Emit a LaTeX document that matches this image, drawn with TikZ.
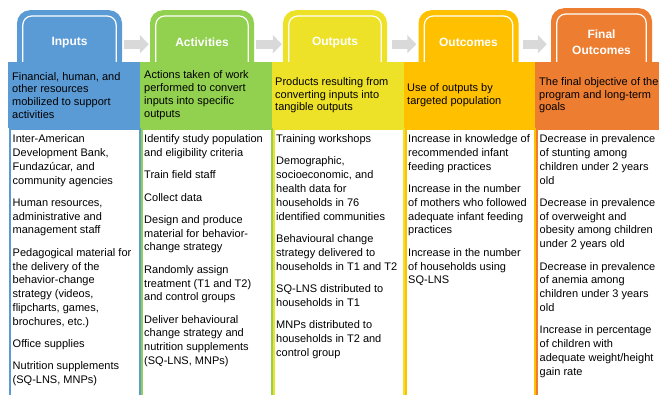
\documentclass[tikz,border=0pt]{standalone}
\usepackage{fontspec}
\setmainfont{Liberation Sans}
\usetikzlibrary{arrows.meta}
\definecolor{inblue}{RGB}{91,155,213}
\definecolor{acgreen}{RGB}{146,208,80}
\definecolor{ouyellow}{RGB}{238,226,40}
\definecolor{ocgold}{RGB}{255,192,0}
\definecolor{fiorange}{RGB}{237,125,49}
\definecolor{arrgray}{RGB}{217,217,217}
\begin{document}
\begin{tikzpicture}[x=1pt,y=1pt,
  tab/.style={fill=#1, rounded corners=13pt, anchor=north, minimum height=64pt, text=white, align=center, font=\fontsize{12}{15.7}\selectfont\bfseries},
  tabline/.style={white, line width=1.2pt, rounded corners=9pt},
  flow/.style={arrgray, line width=9pt, -{Triangle[width=18pt,length=9pt]}},
  band/.style={fill=#1, anchor=north west, minimum height=66pt, inner sep=0pt},
  box/.style={draw=#1, line width=2pt, fill=white, anchor=north west, minimum height=280pt, inner sep=0pt},
  head/.style={anchor=west, align=left, inner sep=0pt, font=\fontsize{11}{12.7}\selectfont},
  body/.style={anchor=north west, align=left, inner sep=0pt, font=\fontsize{11}{13.8}\selectfont}]
\useasboundingbox (0,0) rectangle (659,-395);
\node [tab=inblue, minimum width=105pt] (intab) at (69.5,-10) {Inputs};
\node [tab=acgreen, minimum width=104pt] (actab) at (202,-10) {Activities};
\node [tab=ouyellow, minimum width=104pt] (outab) at (335,-10) {Outputs};
\node [tab=ocgold, minimum width=100pt] (octab) at (468.5,-10) {Outcomes};
\node [tab=fiorange, minimum width=101pt, minimum height=68pt] (fitab) at (601.5,-8) {Final\\Outcomes};
\draw [tabline] ([shift={(6,-6)}]intab.north west) rectangle ([shift={(-6,0)}]intab.south east);
\draw [tabline] ([shift={(6,-6)}]actab.north west) rectangle ([shift={(-6,0)}]actab.south east);
\draw [tabline] ([shift={(6,-6)}]outab.north west) rectangle ([shift={(-6,0)}]outab.south east);
\draw [tabline] ([shift={(6,-6)}]octab.north west) rectangle ([shift={(-6,0)}]octab.south east);
\draw [tabline] ([shift={(6,-6)}]fitab.north west) rectangle ([shift={(-6,0)}]fitab.south east);
\draw [flow] ([shift={(2,-2)}]intab.east) -- ([shift={(-1,-2)}]actab.west);
\draw [flow] ([shift={(2,-2)}]actab.east) -- ([shift={(-1,-2)}]outab.west);
\draw [flow] ([shift={(5,-2)}]outab.east) -- ([shift={(-2,-2)}]octab.west);
\draw [flow] ([shift={(4,-2)}]octab.east) -- ([shift={(-4,-2)}]fitab.west);
\node [box=inblue, minimum width=129.5pt] (inbox) at (9,-128) {};
\node [box=acgreen, minimum width=130pt] (acbox) at (140.5,-128) {};
\node [box=ouyellow, minimum width=130pt] (oubox) at (272.5,-128) {};
\node [box=ocgold, minimum width=129.5pt] (ocbox) at (404.5,-128) {};
\node [box=fiorange, minimum width=130pt] (fibox) at (536,-128) {};
\node [band=inblue, minimum width=131.5pt] (inband) at (8,-62) {};
\node [band=acgreen, minimum width=132pt] (acband) at (139.5,-62) {};
\node [band=ouyellow, minimum width=132pt] (ouband) at (271.5,-62) {};
\node [band=ocgold, minimum width=131.5pt] (ocband) at (403.5,-62) {};
\node [band=fiorange, minimum width=130pt] (fiband) at (535,-62) {};
\node [head] (inhead) at ([xshift=4pt]inband.west) {Financial, human, and\\other resources\\mobilized to support\\activities};
\node [head] (achead) at ([xshift=4.5pt]acband.west) {Actions taken of work\\performed to convert\\inputs into specific\\outputs};
\node [head] (ouhead) at ([xshift=3.5pt]ouband.west) {Products resulting from\\converting inputs into\\tangible outputs};
\node [head] (ochead) at ([xshift=3.5pt]ocband.west) {Use of outputs by\\targeted population};
\node [head] (fihead) at ([xshift=4pt]fiband.west) {The final objective of the\\program and long-term\\goals};
\node [body] (inbody) at ([shift={(3.5,-6.5)}]inbox.north west) {Inter-American\\Development Bank,\\Fundazúcar, and\\community agencies\\[8.5pt]Human resources,\\administrative and\\management staff\\[8.5pt]Pedagogical material for\\the delivery of the\\behavior-change\\strategy (videos,\\flipcharts, games,\\brochures, etc.)\\[8.5pt]Office supplies\\[8.5pt]Nutrition supplements\\(SQ-LNS, MNPs)};
\node [body] (acbody) at ([shift={(3.5,-6.5)}]acbox.north west) {Identify study population\\and eligibility criteria\\[8.5pt]Train field staff\\[8.5pt]Collect data\\[8.5pt]Design and produce\\material for behavior-\\change strategy\\[8.5pt]Randomly assign\\treatment (T1 and T2)\\and control groups\\[8.5pt]Deliver behavioural\\change strategy and\\nutrition supplements\\(SQ-LNS, MNPs)};
\node [body] (oubody) at ([shift={(3.5,-6.5)}]oubox.north west) {Training workshops\\[8.5pt]Demographic,\\socioeconomic, and\\health data for\\households in 76\\identified communities\\[8.5pt]Behavioural change\\strategy delivered to\\households in T1 and T2\\[8.5pt]SQ-LNS distributed to\\households in T1\\[8.5pt]MNPs distributed to\\households in T2 and\\control group};
\node [body] (ocbody) at ([shift={(3.5,-6.5)}]ocbox.north west) {Increase in knowledge of\\recommended infant\\feeding practices\\[8.5pt]Increase in the number\\of mothers who followed\\adequate infant feeding\\practices\\[8.5pt]Increase in the number\\of households using\\SQ-LNS};
\node [body] (fibody) at ([shift={(3.5,-6.5)}]fibox.north west) {Decrease in prevalence\\of stunting among\\children under 2 years\\old\\[8.5pt]Decrease in prevalence\\of overweight and\\obesity among children\\under 2 years old\\[8.5pt]Decrease in prevalence\\of anemia among\\children under 3 years\\old\\[8.5pt]Increase in percentage\\of children with\\adequate weight/height\\gain rate};
\end{tikzpicture}
\end{document}
